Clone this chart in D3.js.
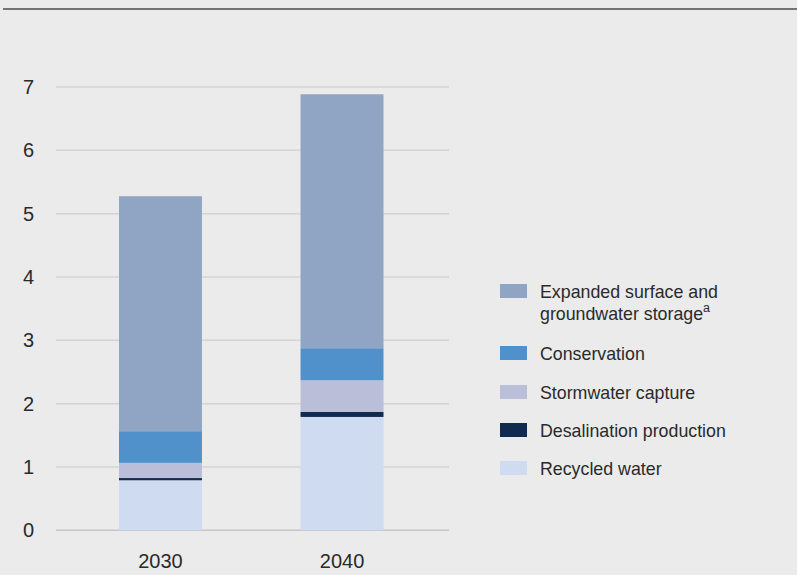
<!DOCTYPE html>
<html>
<head>
<meta charset="utf-8">
<script src="https://cdn.jsdelivr.net/npm/d3@7"></script>
<style>
  body { margin: 0; background: #ebebeb; }
  svg { display: block; }
</style>
</head>
<body>
<div id="chart-container"></div>
<script>
// data
const years = ["2030", "2040"];
const seriesKeys = ["recycled", "desal", "stormwater", "conservation", "expanded"];
const recycled = [0.79, 1.79];
const desal = [0.035, 0.08];
const stormwater = [0.24, 0.5];
const conservation = [0.5, 0.505];
const expanded = [3.71, 4.01];
const yTicks = [0, 1, 2, 3, 4, 5, 6, 7];

const legendData = [
    { key: "expanded", lines: ["Expanded surface and", "groundwater storage"], sup: "a", color: "#8fa5c3" },
    { key: "conservation", lines: ["Conservation"], color: "#5090cb" },
    { key: "stormwater", lines: ["Stormwater capture"], color: "#babed8" },
    { key: "desal", lines: ["Desalination production"], color: "#112a4f" },
    { key: "recycled", lines: ["Recycled water"], color: "#cfdbf1" }
];

const colors = {};
legendData.forEach(d => colors[d.key] = d.color);

const table = years.map((yr, i) => ({
    year: yr,
    recycled: recycled[i],
    desal: desal[i],
    stormwater: stormwater[i],
    conservation: conservation[i],
    expanded: expanded[i]
}));

const W = 797, H = 575;
const fontFamily = "'Liberation Sans', Arial, sans-serif";
const textColor = "#2a2a2a";

const svg = d3.select("#chart-container")
    .append("svg")
    .attr("width", W)
    .attr("height", H);

svg.append("rect")
    .attr("width", W)
    .attr("height", H)
    .attr("fill", "#ebebeb");

// top rule
svg.append("line")
    .attr("x1", 3)
    .attr("x2", W)
    .attr("y1", 9)
    .attr("y2", 9)
    .attr("stroke", "#737373")
    .attr("stroke-width", 2);

const plot = { left: 56, right: 449, top: 87, bottom: 530.3 };

const x = d3.scaleBand()
    .domain(years)
    .range([plot.left, 446.5])
    .paddingInner(0.543)
    .paddingOuter(0.347);

const y = d3.scaleLinear()
    .domain([0, 7])
    .range([plot.bottom, plot.top]);

// gridlines
svg.append("g")
    .selectAll("line")
    .data(yTicks)
    .join("line")
    .attr("x1", plot.left)
    .attr("x2", plot.right)
    .attr("y1", d => y(d))
    .attr("y2", d => y(d))
    .attr("stroke", d => d === 0 ? "#c6c6c6" : "#d4d4d4")
    .attr("stroke-width", 1.5);

// y axis labels
const yAxis = svg.append("g")
    .attr("transform", `translate(${plot.left},0)`)
    .call(d3.axisLeft(y).tickValues(yTicks).tickFormat(d3.format("d")).tickSize(0).tickPadding(22));
yAxis.select(".domain").remove();
yAxis.selectAll("text")
    .attr("font-family", fontFamily)
    .attr("font-size", 20)
    .attr("fill", textColor);

// stacked bars
const stack = d3.stack().keys(seriesKeys);
const stacked = stack(table);

svg.append("g")
    .selectAll("g")
    .data(stacked)
    .join("g")
    .attr("fill", d => colors[d.key])
    .selectAll("rect")
    .data(d => d)
    .join("rect")
    .attr("x", d => x(d.data.year))
    .attr("width", x.bandwidth())
    .attr("y", d => y(d[1]))
    .attr("height", d => y(d[0]) - y(d[1]));

// x axis labels
const xAxis = svg.append("g")
    .attr("transform", `translate(0,${plot.bottom})`)
    .call(d3.axisBottom(x).tickSize(0).tickPadding(24));
xAxis.select(".domain").remove();
xAxis.selectAll("text")
    .attr("font-family", fontFamily)
    .attr("font-size", 20)
    .attr("fill", textColor);

// legend
const legendTops = [284, 346, 385, 423, 461];
const legend = svg.append("g");

legendData.forEach((d, i) => {
    const top = legendTops[i];
    legend.append("rect")
        .attr("x", 500)
        .attr("y", top)
        .attr("width", 27)
        .attr("height", 14)
        .attr("fill", d.color);

    const t = legend.append("text")
        .attr("x", 540)
        .attr("y", top + 14)
        .attr("font-family", fontFamily)
        .attr("font-size", 17.8)
        .attr("fill", textColor);

    d.lines.forEach((ln, j) => {
        t.append("tspan")
            .attr("x", 540)
            .attr("dy", j === 0 ? 0 : 22)
            .text(ln);
    });
    if (d.sup) {
        t.append("tspan")
            .attr("font-size", 12.5)
            .attr("dy", -8)
            .text(d.sup);
    }
});
</script>
</body>
</html>
